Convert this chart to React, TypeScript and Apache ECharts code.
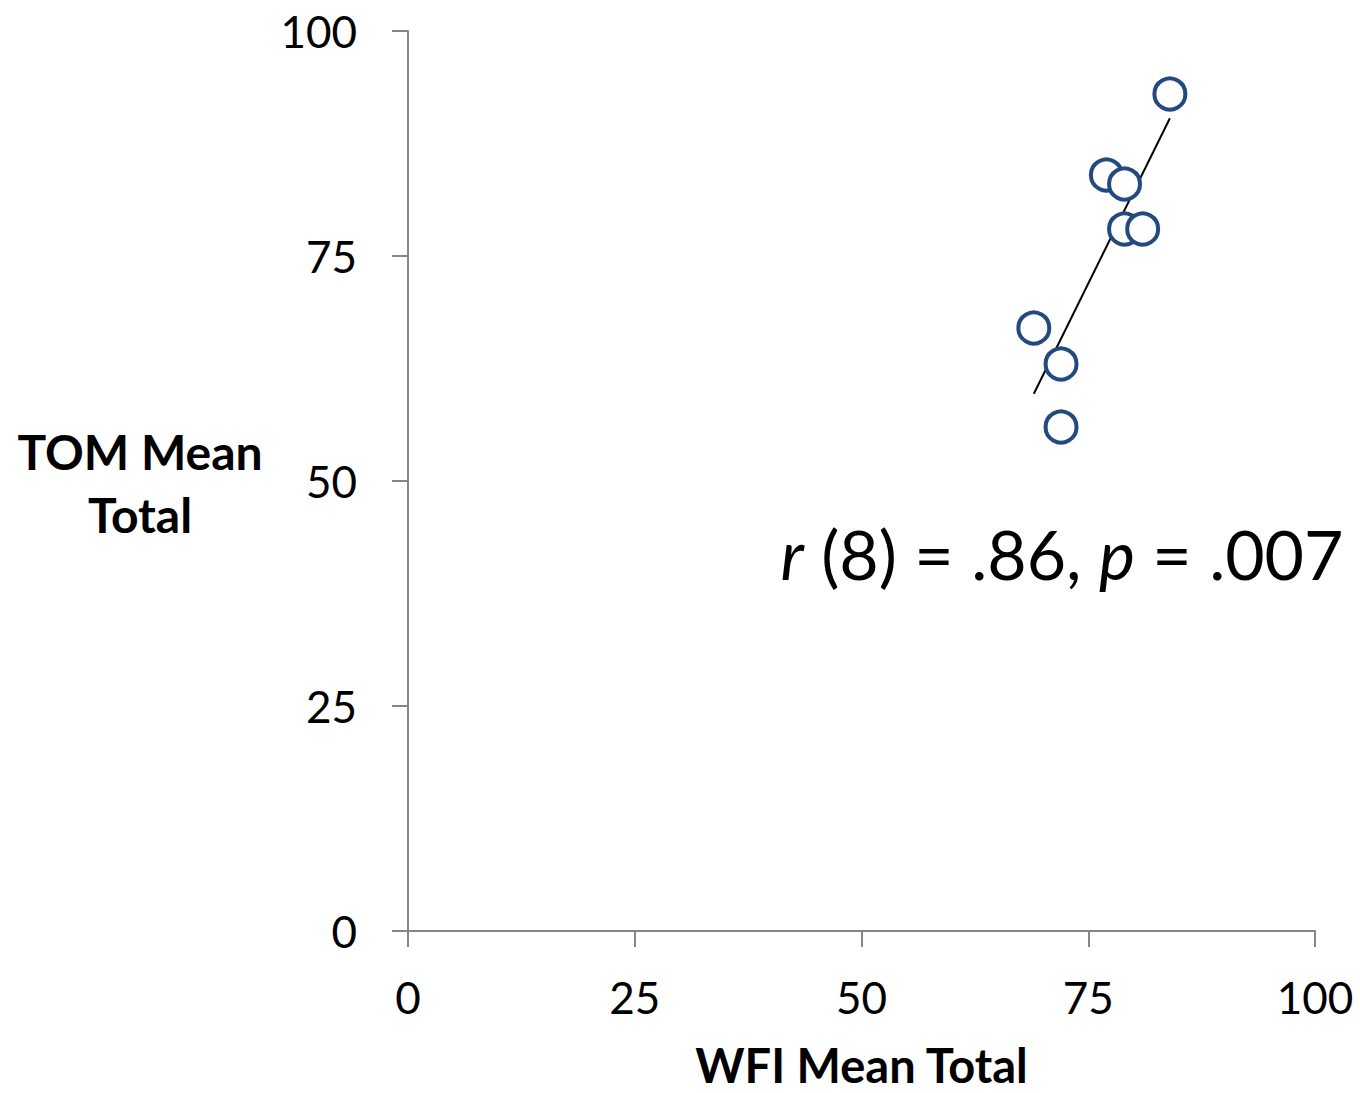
import React, { useEffect, useRef } from "react";
import * as echarts from "echarts";

const points: [number, number][] = [
  [84, 93],
  [77, 84],
  [79, 83],
  [79, 78],
  [81, 78],
  [69, 67],
  [72, 63],
  [72, 56],
];
const trendLine: [number, number][] = [
  [69, 59.7],
  [84, 90.3],
];
const xTicks = [0, 25, 50, 75, 100];
const yTicks = [0, 25, 50, 75, 100];
const xTitle = "WFI Mean Total";
const yTitle = "TOM Mean\nTotal";

const FONT = "Lato, 'Open Sans', sans-serif";

export default function App() {
  const ref = useRef<HTMLDivElement>(null);
  useEffect(() => {
    if (!ref.current) return;
    const chart = echarts.init(ref.current, null, { renderer: "svg" });
    const axisColor = "#868686";
    chart.setOption({
      animation: false,
      backgroundColor: "#ffffff",
      grid: {
        left: 408,
        right: 45,
        top: 31,
        bottom: 162,
        containLabel: false,
        outerBoundsMode: "none",
      },
      xAxis: {
        type: "value",
        min: xTicks[0],
        max: xTicks[xTicks.length - 1],
        interval: 25,
        name: xTitle,
        nameLocation: "middle",
        nameGap: 115,
        nameTextStyle: {
          fontFamily: FONT,
          fontSize: 47,
          fontWeight: "bold",
          color: "#000",
          lineHeight: 38,
        },
        axisLine: { show: true, lineStyle: { color: axisColor, width: 2 } },
        axisTick: { show: true, length: 16, lineStyle: { color: axisColor, width: 2 } },
        axisLabel: { margin: 44, fontFamily: FONT, fontSize: 44, color: "#000" },
        splitLine: { show: false },
      },
      yAxis: {
        type: "value",
        min: yTicks[0],
        max: yTicks[yTicks.length - 1],
        interval: 25,
        axisLine: { show: true, lineStyle: { color: axisColor, width: 2 } },
        axisTick: { show: true, length: 16, lineStyle: { color: axisColor, width: 2 } },
        axisLabel: { margin: 51, fontFamily: FONT, fontSize: 44, color: "#000" },
        splitLine: { show: false },
      },
      graphic: [
        {
          type: "text",
          x: 140,
          y: 483,
          style: {
            text: yTitle,
            fontFamily: FONT,
            fontSize: 48,
            fontWeight: "bold",
            fill: "#000",
            align: "center",
            verticalAlign: "middle",
            lineHeight: 63,
          },
        },
        {
          type: "text",
          x: 1062,
          y: 553,
          style: {
            text: "{i|r} (8) = .86, {i|p} = .007",
            fontFamily: FONT,
            fontSize: 68,
            fill: "#000",
            align: "center",
            verticalAlign: "middle",
            rich: {
              i: { fontFamily: FONT, fontSize: 68, fontStyle: "italic", fill: "#000" },
            },
          },
        },
      ],
      series: [
        {
          type: "line",
          data: trendLine,
          showSymbol: false,
          symbol: "none",
          lineStyle: { color: "#000", width: 2 },
          silent: true,
          z: 1,
        },
        {
          type: "scatter",
          data: points,
          symbol: "circle",
          symbolSize: 31,
          itemStyle: { color: "#ffffff", borderColor: "#234A80", borderWidth: 4, opacity: 1 },
          z: 3,
        },
      ],
    });
    return () => chart.dispose();
  }, []);
  return <div ref={ref} style={{ width: 1360, height: 1093, position: "absolute", left: 0, top: 0 }} />;
}
